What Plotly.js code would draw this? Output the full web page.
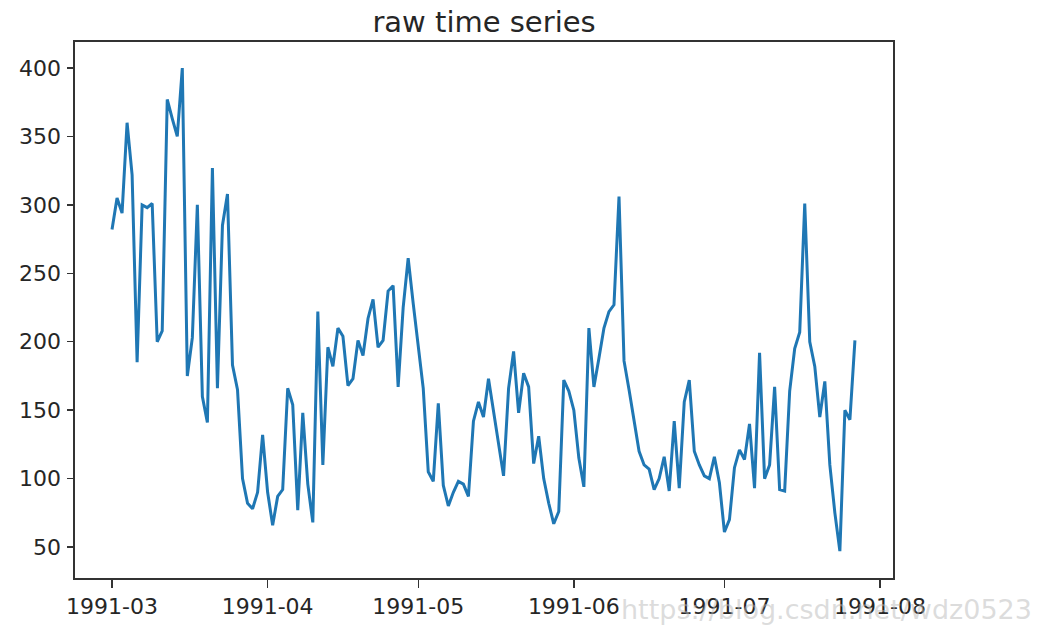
<!DOCTYPE html>
<html>
<head>
<meta charset="utf-8">
<script src="https://cdn.plot.ly/plotly-3.0.1.min.js"></script>
<style>html,body{margin:0;padding:0;background:#fff;}#chart{width:1040px;height:625px;}</style>
</head>
<body>
<div id="chart"></div>
<script>
// Daily series starting 1991-03-01
const startDate = '1991-03-01';
const values = [
  282, 305, 294, 360, 322, 185, 300, 298, 301, 200,
  208, 377, 363, 350, 400, 175, 203, 300, 160, 141,
  327, 166, 285, 308, 183, 165, 100, 82, 78, 90,
  132, 90, 66, 87, 92, 166, 154, 77, 148, 96,
  68, 222, 110, 196, 182, 210, 204, 168, 173, 201,
  190, 217, 231, 196, 201, 237, 241, 167, 225, 261,
  228, 198, 166, 105, 98, 155, 95, 80, 90, 98,
  96, 87, 142, 156, 145, 173, 150, 125, 102, 166,
  193, 148, 177, 167, 111, 131, 100, 82, 67, 76,
  172, 164, 150, 115, 94, 210, 167, 188, 210, 222,
  227, 306, 186, 165, 142, 120, 110, 107, 92, 100,
  116, 91, 142, 93, 156, 172, 120, 110, 102, 100,
  116, 97, 61, 70, 108, 121, 114, 140, 93, 192,
  100, 110, 167, 92, 91, 164, 195, 207, 301, 200,
  182, 145, 171, 110, 75, 47, 150, 143, 201
];
const xTickVals = ['1991-03-01', '1991-04-01', '1991-05-01', '1991-06-01', '1991-07-01', '1991-08-01'];
const xTickText = ['1991-03', '1991-04', '1991-05', '1991-06', '1991-07', '1991-08'];
const yTickVals = [50, 100, 150, 200, 250, 300, 350, 400];
const titleText = 'raw time series';
const watermarkText = 'https://blog.csdn.net/wdz0523';

// build the daily date index
const dates = [];
const d0 = new Date(startDate + 'T00:00:00Z');
for (let i = 0; i < values.length; i++) {
  const d = new Date(d0.getTime() + i * 86400000);
  dates.push(d.toISOString().slice(0, 10));
}

const font = {family: 'DejaVu Sans, sans-serif', size: 22, color: '#262626'};

const trace = {
  type: 'scatter', mode: 'lines', x: dates, y: values,
  line: {color: '#1f77b4', width: 3}, hoverinfo: 'x+y'
};

const layout = {
  width: 1040, height: 625,
  margin: {l: 75, r: 147, t: 42, b: 47, pad: 0},
  paper_bgcolor: '#fff', plot_bgcolor: '#fff',
  showlegend: false,
  font: font,
  title: {text: titleText, font: {family: 'DejaVu Sans, sans-serif', size: 29, color: '#262626'},
          x: 0.4654, xanchor: 'center', xref: 'container', y: 0.965, yanchor: 'middle', yref: 'container'},
  xaxis: {
    type: 'date', range: ['1991-02-21 15:00', '1991-08-03 14:00'],
    tickvals: xTickVals, ticktext: xTickText,
    showgrid: false, zeroline: false,
    showline: true, mirror: true, linecolor: '#333', linewidth: 1.6,
    ticks: 'outside', ticklen: 8, tickwidth: 1.4, tickcolor: '#333',
    tickfont: font
  },
  yaxis: {
    range: [27.4, 419], tickvals: yTickVals,
    showgrid: false, zeroline: false,
    showline: true, mirror: true, linecolor: '#333', linewidth: 1.6,
    ticks: 'outside', ticklen: 6, tickwidth: 1.4, tickcolor: '#333',
    tickfont: font, ticklabelstandoff: 2
  },
  annotations: [{
    text: watermarkText, xref: 'paper', yref: 'paper',
    x: 1.172, y: -0.058, xanchor: 'right', yanchor: 'middle', showarrow: false,
    font: {family: 'DejaVu Sans, sans-serif', size: 27, color: 'rgba(185,185,185,0.5)'}
  }]
};

Plotly.newPlot('chart', [trace], layout, {displayModeBar: false, staticPlot: true});
</script>
</body>
</html>
